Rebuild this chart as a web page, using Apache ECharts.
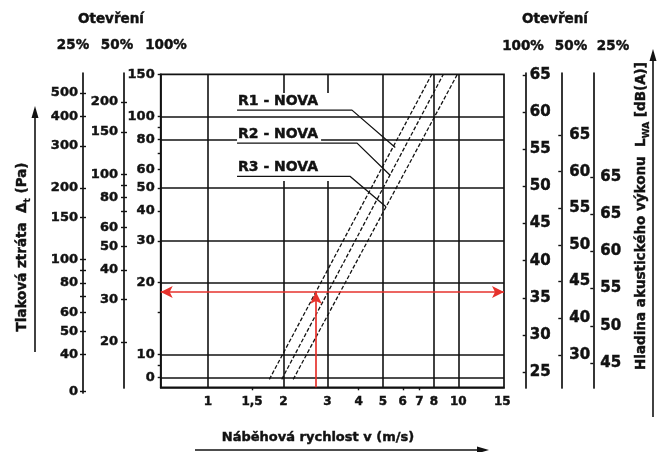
<!DOCTYPE html>
<html lang="cs">
<head>
<meta charset="utf-8">
<title>Tlaková ztráta a hladina akustického výkonu</title>
<script src="https://cdn.jsdelivr.net/npm/echarts@6.0.0/dist/echarts.min.js"></script>
<style>
  html, body { margin: 0; padding: 0; background: #fff; }
  #chart { width: 657px; height: 452px; }
</style>
</head>
<body>
<div id="chart"></div>
<script>
// Face velocity v (m/s), logarithmic
const velocityRange = [0.647, 15.23];
const velocityTicks = [1, 1.5, 2, 3, 4, 5, 6, 7, 8, 10, 15];
const velocityTickText = ['1', '1,5', '2', '3', '4', '5', '6', '7', '8', '10', '15'];
const velocityMinorTicks = [1.5, 4, 6, 7];
const velocityGrid = [1, 2, 3, 5, 8, 10];

// Pressure loss at 100 % opening (Pa), logarithmic
const pressureRange = [7.27, 150.2];
const pressureTicks = [150, 100, 90, 80, 70, 60, 50, 40, 30, 20, 15, 10, 9, 8];
const pressureLabels = [150, 100, 80, 60, 50, 40, 30, 20, 10, 8];
const pressureLabelText = ['150', '100', '80', '60', '50', '40', '30', '20', '10', '0'];
const pressureGrid = [100, 80, 50, 30, 20, 10, 8];

// Pressure loss at 25 % opening (Pa)
const p25Range = [27.6, 607];
const p25Ticks = [500, 400, 300, 200, 150, 100, 90, 80, 70, 60, 50, 40, 28];
const p25Labels = [500, 400, 300, 200, 150, 100, 80, 60, 50, 40, 28];
const p25LabelText = ['500', '400', '300', '200', '150', '100', '80', '60', '50', '40', '0'];

// Pressure loss at 50 % opening (Pa)
const p50Range = [12.86, 264.3];
const p50Ticks = [200, 150, 100, 90, 80, 70, 60, 50, 40, 30, 20];
const p50Labels = [200, 150, 100, 80, 60, 50, 40, 30, 20];
const p50LabelText = ['200', '150', '100', '80', '60', '50', '40', '30', '20'];

// Sound power level L_WA (dB(A)) for 100 %, 50 % and 25 % opening
const lw100Range = [22.85, 65.27];
const lw100Ticks = [65, 60, 55, 50, 45, 40, 35, 30, 25];
const lw100Text = ['65', '60', '55', '50', '45', '40', '35', '30', '25'];
const lw50Range = [30.48, 73.46];
const lw50Ticks = [65, 60, 55, 50, 45, 40, 35];
const lw50Text = ['65', '60', '55', '50', '45', '40', '30'];
const lw25Range = [41.64, 83.98];
const lw25Ticks = [70, 65, 60, 55, 50, 45];
const lw25Text = ['65', '65', '60', '55', '50', '45'];

// Damper curves: velocity and pressure loss at both ends of each segment
const curveNames = ['R1 - NOVA', 'R2 - NOVA', 'R3 - NOVA'];
const curveVelocity = [[1.758, 7.83], [1.97, 8.71], [2.19, 9.91]];
const curvePressure = [[7.85, 150], [7.85, 150], [7.85, 150]];

// Callouts: label anchor, end of the underline, point on the curve
const leaderVelocity = [[1.306, 3.76, 5.6], [1.306, 3.94, 5.34], [1.306, 3.69, 5.14]];
const leaderPressure = [[106.2, 106.2, 74.0], [77.2, 77.2, 56.6], [56.0, 56.0, 41.7]];

// Example reading
const readingVelocity = 2.70;
const readingPressure = 18.3;

const FONT = '"DejaVu Sans", "Liberation Sans", Arial, sans-serif';
const INK = '#121212';
const RED = '#e6322c';
const GRID_W = 1.6;

function pick(values, texts) {
  return function (v) {
    let best = 0;
    for (let i = 1; i < values.length; i++) {
      if (Math.abs(values[i] - v) < Math.abs(values[best] - v)) best = i;
    }
    return texts[best];
  };
}

// Heavy bold lettering: bold face plus a hairline outline in the same ink
function font(size) {
  return { color: INK, fontFamily: FONT, fontWeight: 'bold', fontSize: size, textBorderColor: INK, textBorderWidth: 0.45 };
}

function hiddenX(gridIndex) {
  return { type: 'value', gridIndex: gridIndex, min: 0, max: 1, show: false };
}

const axisLine = { show: true, lineStyle: { color: INK, width: 1.7 } };
const tickLine = { color: INK, width: 1.4 };

// Pressure scale beside the plot: labelled axis with outer ticks plus a twin with inner ticks
function pressureScale(gridIndex, range, ticks, labels, texts, margin) {
  return [
    {
      type: 'log', gridIndex: gridIndex, min: range[0], max: range[1], position: 'left',
      axisLine: axisLine,
      axisTick: { show: true, customValues: ticks, length: 3, lineStyle: tickLine },
      axisLabel: Object.assign({ customValues: labels, formatter: pick(labels, texts), margin: margin }, font(13)),
      splitLine: { show: false }
    },
    {
      type: 'log', gridIndex: gridIndex, min: range[0], max: range[1], position: 'left',
      axisLine: { show: false },
      axisTick: { show: true, inside: true, customValues: ticks, length: 3, lineStyle: tickLine },
      axisLabel: { show: false },
      splitLine: { show: false }
    }
  ];
}

function levelScale(gridIndex, range, ticks, texts, margin) {
  return {
    type: 'value', gridIndex: gridIndex, min: range[0], max: range[1], position: 'right',
    axisLine: axisLine,
    axisTick: { show: true, inside: true, customValues: ticks, length: 3, lineStyle: tickLine },
    axisLabel: Object.assign({ customValues: ticks, formatter: pick(ticks, texts), margin: margin }, font(15)),
    splitLine: { show: false }
  };
}

const curveSeries = curveNames.map(function (name, i) {
  return {
    name: name, type: 'line', xAxisIndex: 0, yAxisIndex: 0,
    data: curveVelocity[i].map(function (v, j) { return [v, curvePressure[i][j]]; }),
    symbol: 'none', showSymbol: false,
    lineStyle: { color: INK, width: 1.3, type: [4, 2] },
    silent: true, z: 3
  };
});

curveSeries[0].markLine = {
  silent: true,
  symbol: ['arrow', 'arrow'],
  symbolSize: [9, 12],
  label: { show: false },
  emphasis: { disabled: true },
  lineStyle: { color: RED, width: 1.7, type: 'solid' },
  data: [
    [{ coord: [velocityRange[0], readingPressure] }, { coord: [velocityRange[1], readingPressure] }],
    [{ coord: [readingVelocity, pressureRange[0]], symbol: 'none' }, { coord: [readingVelocity, readingPressure], symbol: 'arrow' }]
  ]
};

const leaderSeries = curveNames.map(function (name, i) {
  return {
    name: name + ' (popis)', type: 'line', xAxisIndex: 0, yAxisIndex: 0,
    data: leaderVelocity[i].map(function (v, j) {
      return { value: [v, leaderPressure[i][j]], label: { show: j === 0, formatter: name } };
    }),
    symbol: 'circle', symbolSize: 0, showSymbol: true,
    itemStyle: { color: INK },
    lineStyle: { color: INK, width: 1.3 },
    label: Object.assign({ position: 'top', align: 'left', distance: 2, backgroundColor: '#fff', padding: [1, 3, 0, 1] }, font(14)),
    silent: true, z: 4
  };
});

function gtext(text, x, y, size) {
  return {
    type: 'text', x: x, y: y, silent: true,
    style: { text: text, fill: INK, stroke: INK, lineWidth: 0.45, fontFamily: FONT, fontWeight: 'bold', fontSize: size, align: 'center', verticalAlign: 'middle' }
  };
}

function richTitle(text, x, y, size) {
  const base = { fontFamily: FONT, fontWeight: 'bold', fontSize: size, fill: INK, stroke: INK, lineWidth: 0.45, lineHeight: 20, verticalAlign: 'middle' };
  const sub = { fontFamily: FONT, fontWeight: 'bold', fontSize: Math.round(size * 0.68), fill: INK, stroke: INK, lineWidth: 0.3, lineHeight: 20, verticalAlign: 'bottom' };
  return {
    type: 'text', x: x, y: y, rotation: Math.PI / 2, silent: true,
    style: { text: text, fill: INK, fontFamily: FONT, fontWeight: 'bold', fontSize: size, align: 'center', verticalAlign: 'middle', rich: { m: base, s: sub } }
  };
}

const chart = echarts.init(document.getElementById('chart'), null, { renderer: 'canvas' });

chart.setOption({
  animation: false,
  backgroundColor: '#ffffff',
  grid: [
    { left: 160.7, top: 74.3, width: 343.3, height: 313, show: true, borderColor: INK, borderWidth: 1.7, backgroundColor: 'transparent', outerBoundsMode: 'none', containLabel: false },
    { left: 83, top: 73, width: 1, height: 320, outerBoundsMode: 'none', containLabel: false },
    { left: 124, top: 73, width: 1, height: 315, outerBoundsMode: 'none', containLabel: false },
    { left: 525.7, top: 73, width: 1, height: 315, outerBoundsMode: 'none', containLabel: false },
    { left: 561.3, top: 73, width: 1, height: 315, outerBoundsMode: 'none', containLabel: false },
    { left: 593.3, top: 73, width: 1, height: 315, outerBoundsMode: 'none', containLabel: false }
  ],
  xAxis: [
    {
      type: 'log', gridIndex: 0, min: velocityRange[0], max: velocityRange[1], position: 'bottom', z: 3,
      axisLine: axisLine,
      axisTick: { show: true, customValues: velocityMinorTicks, length: 3, lineStyle: tickLine },
      axisLabel: Object.assign({ customValues: velocityTicks, formatter: pick(velocityTicks, velocityTickText), margin: 9 }, font(12)),
      splitLine: { show: false }
    },
    {
      // vertical grid lines, laid under the blank behind the callouts
      type: 'log', gridIndex: 0, min: velocityRange[0], max: velocityRange[1], position: 'bottom', z: 0,
      axisLine: { show: false },
      axisTick: { show: false, customValues: velocityGrid },
      axisLabel: { show: false },
      splitLine: { show: true, lineStyle: { color: INK, width: GRID_W } }
    },
    hiddenX(1), hiddenX(2), hiddenX(3), hiddenX(4), hiddenX(5)
  ],
  yAxis: [
    {
      type: 'log', gridIndex: 0, min: pressureRange[0], max: pressureRange[1], position: 'left', z: 3,
      axisLine: axisLine,
      axisTick: { show: true, customValues: pressureTicks, length: 3, lineStyle: tickLine },
      axisLabel: Object.assign({ customValues: pressureLabels, formatter: pick(pressureLabels, pressureLabelText), margin: 6 }, font(13)),
      splitLine: { show: false }
    },
    {
      // horizontal grid lines, drawn above the callout blank
      type: 'log', gridIndex: 0, min: pressureRange[0], max: pressureRange[1], position: 'left', z: 2,
      axisLine: { show: false },
      axisTick: { show: false, customValues: pressureGrid },
      axisLabel: { show: false },
      splitLine: { show: true, lineStyle: { color: INK, width: GRID_W } }
    }
  ].concat(
    pressureScale(1, p25Range, p25Ticks, p25Labels, p25LabelText, 5),
    pressureScale(2, p50Range, p50Ticks, p50Labels, p50LabelText, 6),
    [
      levelScale(3, lw100Range, lw100Ticks, lw100Text, 3),
      levelScale(4, lw50Range, lw50Ticks, lw50Text, 7),
      levelScale(5, lw25Range, lw25Ticks, lw25Text, 6)
    ]
  ),
  series: curveSeries.concat(leaderSeries),
  graphic: [
    // blank panel behind the callout block
    { type: 'rect', silent: true, z: 1, shape: { x: 235, y: 93, width: 100, height: 88 }, style: { fill: '#ffffff' } },
    gtext('Otevření', 111, 19, 13.5),
    gtext('25%', 73, 45, 13.5),
    gtext('50%', 117, 45, 13.5),
    gtext('100%', 166, 45, 13.5),
    gtext('Otevření', 555, 19, 13.5),
    gtext('100%', 523, 46, 13.5),
    gtext('50%', 571, 46, 13.5),
    gtext('25%', 613, 46, 13.5),
    gtext('Náběhová rychlost v (m/s)', 318, 438, 13),
    richTitle('{m|Tlaková ztráta  Δ}{s|t}{m| (Pa)}', 22, 247, 13.5),
    richTitle('{m|Hladina akustického výkonu  L}{s|WA}{m| [dB(A)]}', 641, 216, 13.5),
    { type: 'line', silent: true, shape: { x1: 35, y1: 352, x2: 35, y2: 116 }, style: { stroke: INK, lineWidth: 1.6 } },
    { type: 'polygon', silent: true, shape: { points: [[35, 106], [31.5, 118], [38.5, 118]] }, style: { fill: INK } },
    { type: 'line', silent: true, shape: { x1: 195, y1: 450, x2: 478, y2: 450 }, style: { stroke: INK, lineWidth: 1.6 } },
    { type: 'polygon', silent: true, shape: { points: [[489, 450], [477, 446.5], [477, 453.5]] }, style: { fill: INK } },
    { type: 'line', silent: true, shape: { x1: 653, y1: 417, x2: 653, y2: 60 }, style: { stroke: INK, lineWidth: 1.6 } },
    { type: 'polygon', silent: true, shape: { points: [[653, 49], [649.5, 61], [656.5, 61]] }, style: { fill: INK } }
  ]
});
</script>
</body>
</html>
